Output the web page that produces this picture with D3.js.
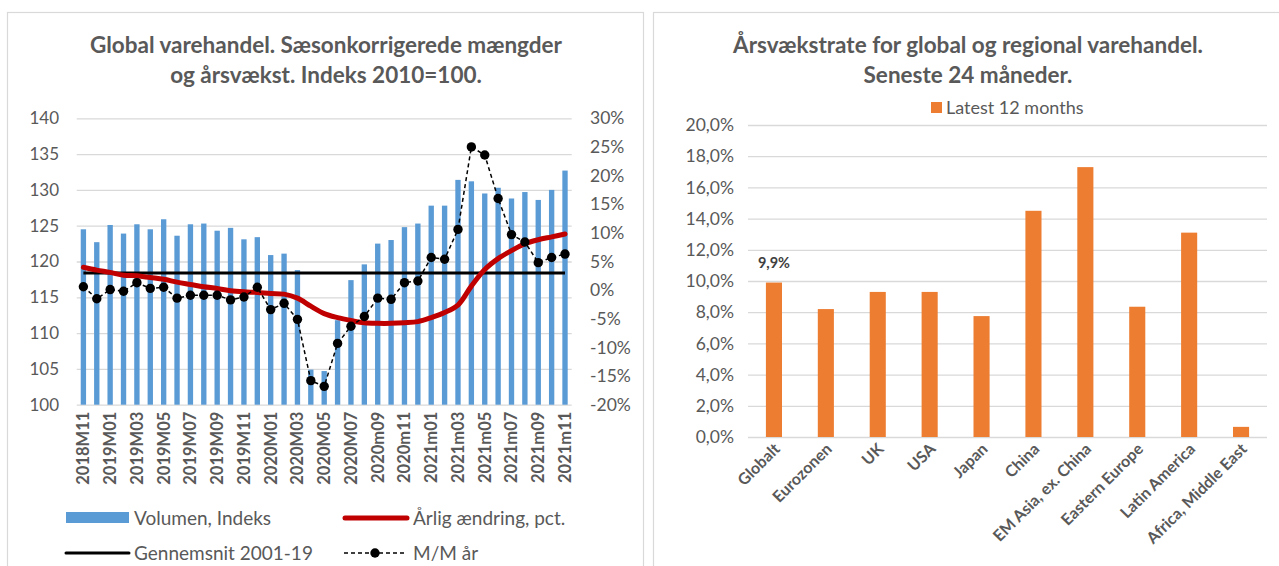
<!DOCTYPE html>
<html><head><meta charset="utf-8">
<script src="https://cdn.jsdelivr.net/npm/d3@7"></script>
<style>
html,body{margin:0;padding:0;background:#fff;}
svg{display:block;font-family:Lato,"Open Sans",sans-serif;}
</style></head>
<body><svg id="c" width="1279" height="566"></svg>
<script>
// ---------- Left chart data ----------
const months = ["2018M11","2018M12","2019M01","2019M02","2019M03","2019M04","2019M05","2019M06","2019M07","2019M08","2019M09","2019M10","2019M11","2019M12","2020M01","2020M02","2020M03","2020M04","2020M05","2020M06","2020M07","2020M08","2020m09","2020m10","2020m11","2020m12","2021m01","2021m02","2021m03","2021m04","2021m05","2021m06","2021m07","2021m08","2021m09","2021m10","2021m11"];
const volumeIndex = [124.5,122.7,125.1,123.9,125.2,124.5,125.9,123.6,125.2,125.3,124.3,124.7,123.1,123.4,120.9,121.1,118.8,104.9,104.7,111.8,117.4,119.6,122.5,123.0,124.8,125.3,127.8,127.8,131.4,131.2,129.5,130.3,128.8,129.7,128.6,130.0,132.7];
const annualChange = [4.0,3.5,3.1,2.6,2.5,2.2,1.9,1.4,1.0,0.6,0.3,-0.1,-0.3,-0.4,-0.6,-0.7,-1.4,-2.8,-4.1,-4.8,-5.3,-5.7,-5.8,-5.8,-5.7,-5.5,-4.8,-3.9,-2.6,0.7,3.6,5.5,6.9,8.1,8.8,9.3,9.8];
const average2001_19 = 3.0;
const mmYear = [0.6,-1.5,0.1,-0.2,1.3,0.3,0.5,-1.4,-0.9,-0.9,-0.9,-1.7,-1.2,0.5,-3.4,-2.3,-5.1,-15.8,-16.8,-9.3,-6.3,-4.6,-1.4,-1.6,1.3,1.6,5.7,5.4,10.6,25.0,23.6,16.0,9.7,8.4,4.8,5.7,6.3];
const leftTicks = [100,105,110,115,120,125,130,135,140];
const rightTicks = [-20,-15,-10,-5,0,5,10,15,20,25,30];
const leftTitle = ["Global varehandel. Sæsonkorrigerede mængder","og årsvækst. Indeks 2010=100."];
const leftLegend = ["Volumen, Indeks","Årlig ændring, pct.","Gennemsnit 2001-19","M/M år"];

// ---------- Right chart data ----------
const regions = ["Globalt","Eurozonen","UK","USA","Japan","China","EM Asia, ex. China","Eastern Europe","Latin America","Africa, Middle East"];
const growth12m = [9.9,8.2,9.3,9.3,7.75,14.5,17.3,8.35,13.1,0.65];
const growthTicks = [0,2,4,6,8,10,12,14,16,18,20];
const rightTitle = ["Årsvækstrate for global og regional varehandel.","Seneste 24 måneder."];
const rightLegend = "Latest 12 months";

const svg = d3.select("#c");
const txt = "#595959", grid = "#d9d9d9";
const blue = "#5b9bd5", red = "#c00000", orange = "#ed7d31";
const loc = d3.formatLocale({decimal:",",thousands:".",grouping:[3],currency:["",""]});
const f1 = loc.format(".1f");

// panel borders
svg.append("rect").attr("x",7.5).attr("y",12.5).attr("width",636).attr("height",600)
  .attr("fill","none").attr("stroke",grid).attr("stroke-width",1.2);
svg.append("rect").attr("x",653.5).attr("y",12.5).attr("width",700).attr("height",600)
  .attr("fill","none").attr("stroke",grid).attr("stroke-width",1.2);

// ===== LEFT CHART =====
const L = svg.append("g");
L.selectAll("text.title").data(leftTitle).join("text")
  .attr("x",326).attr("y",(d,i)=>53+i*30).attr("text-anchor","middle")
  .attr("font-size",22.5).attr("font-weight","bold").attr("fill",txt).text(d=>d);

const x = d3.scaleBand().domain(months).range([76.7,571.7]).paddingInner(0.6).paddingOuter(0.3);
const yL = d3.scaleLinear().domain([100,140]).range([404.7,118.3]);
const yR = d3.scaleLinear().domain([-20,30]).range([404.7,118.3]);

// gridlines
L.append("g").call(d3.axisLeft(yL).tickValues(leftTicks).tickSize(-(571.7-76.7)).tickFormat(""))
  .attr("transform","translate(76.7,0)")
  .call(g=>{g.select(".domain").remove(); g.selectAll("line").attr("stroke",grid).attr("stroke-width",1.3);});
// left labels
L.append("g").attr("transform","translate(59,0)")
  .call(d3.axisLeft(yL).tickValues(leftTicks).tickSize(0).tickPadding(0))
  .call(g=>{g.select(".domain").remove(); g.selectAll("text").attr("fill",txt).attr("font-size",17).attr("font-family","Lato");});
// right labels
L.append("g").attr("transform","translate(590,0)")
  .call(d3.axisRight(yR).tickValues(rightTicks).tickSize(0).tickPadding(0).tickFormat(d=>d+"%"))
  .call(g=>{g.select(".domain").remove(); g.selectAll("text").attr("fill",txt).attr("font-size",17.5).attr("font-family","Lato");});

// bars
L.selectAll("rect.bar").data(volumeIndex).join("rect")
  .attr("x",(d,i)=>x(months[i])).attr("width",x.bandwidth())
  .attr("y",d=>yL(d)).attr("height",d=>yL(100)-yL(d)).attr("fill",blue);

const cx = i => x(months[i]) + x.bandwidth()/2;
// average line
L.append("path").datum(months)
  .attr("d",d3.line().x((d,i)=>cx(i)).y(()=>yR(average2001_19)))
  .attr("stroke","#000").attr("stroke-width",3).attr("fill","none");
// annual change
L.append("path").datum(annualChange)
  .attr("d",d3.line().x((d,i)=>cx(i)).y(d=>yR(d)).curve(d3.curveCatmullRom.alpha(0.5)))
  .attr("stroke",red).attr("stroke-width",5).attr("fill","none").attr("stroke-linecap","round");
// M/M
L.append("path").datum(mmYear)
  .attr("d",d3.line().x((d,i)=>cx(i)).y(d=>yR(d)))
  .attr("stroke","#000").attr("stroke-width",1.5).attr("stroke-dasharray","4,3").attr("fill","none");
L.selectAll("circle.mm").data(mmYear).join("circle")
  .attr("cx",(d,i)=>cx(i)).attr("cy",d=>yR(d)).attr("r",4.7).attr("fill","#000");

// x labels
L.append("g").attr("transform","translate(0,404.7)")
  .call(d3.axisBottom(x).tickValues(months.filter((d,i)=>i%2===0)).tickSize(0).tickPadding(0))
  .call(g=>{g.select(".domain").remove();
    g.selectAll("text").attr("fill",txt).attr("font-size",16.5).attr("font-weight","bold").attr("font-family","Lato")
     .attr("transform","rotate(-90)").attr("text-anchor","end").attr("x",-7).attr("y",0).attr("dy","0.36em");});

// legend
const lg = L.append("g").attr("font-size",19).attr("fill",txt);
lg.append("rect").attr("x",66).attr("y",512).attr("width",63).attr("height",11).attr("fill",blue);
lg.append("text").attr("x",134).attr("y",518).attr("dy","0.35em").attr("fill",txt).text(leftLegend[0]);
lg.append("line").attr("x1",345).attr("x2",407).attr("y1",518).attr("y2",518).attr("stroke",red).attr("stroke-width",5).attr("stroke-linecap","round");
lg.append("text").attr("x",413).attr("y",518).attr("dy","0.35em").attr("fill",txt).text(leftLegend[1]);
lg.append("line").attr("x1",66).attr("x2",129).attr("y1",553).attr("y2",553).attr("stroke","#000").attr("stroke-width",3).attr("stroke-linecap","round");
lg.append("text").attr("x",134).attr("y",553).attr("dy","0.35em").attr("fill",txt).text(leftLegend[2]);
lg.append("line").attr("x1",344).attr("x2",406).attr("y1",553).attr("y2",553).attr("stroke","#000").attr("stroke-width",1.5).attr("stroke-dasharray","4,3");
lg.append("circle").attr("cx",375).attr("cy",553).attr("r",4.7).attr("fill","#000");
lg.append("text").attr("x",413).attr("y",553).attr("dy","0.35em").attr("fill",txt).text(leftLegend[3]);

// ===== RIGHT CHART =====
const R = svg.append("g");
R.selectAll("text.title").data(rightTitle).join("text")
  .attr("x",968).attr("y",(d,i)=>53+i*30).attr("text-anchor","middle")
  .attr("font-size",22.5).attr("font-weight","bold").attr("fill",txt).text(d=>d);

const x2 = d3.scaleBand().domain(regions).range([748,1267]).paddingInner(0.69).paddingOuter(0.345);
const y2 = d3.scaleLinear().domain([0,20]).range([437,125]);

R.append("g").attr("transform","translate(748,0)")
  .call(d3.axisLeft(y2).tickValues(growthTicks).tickSize(-(1267-748)).tickFormat(""))
  .call(g=>{g.select(".domain").remove(); g.selectAll("line").attr("stroke",grid).attr("stroke-width",1.3);});
R.append("g").attr("transform","translate(734,0)")
  .call(d3.axisLeft(y2).tickValues(growthTicks).tickSize(0).tickPadding(0).tickFormat(d=>f1(d)+"%"))
  .call(g=>{g.select(".domain").remove(); g.selectAll("text").attr("fill",txt).attr("font-size",17.5).attr("font-family","Lato");});

R.selectAll("rect.bar").data(growth12m).join("rect")
  .attr("x",(d,i)=>x2(regions[i])).attr("width",x2.bandwidth())
  .attr("y",d=>y2(d)).attr("height",d=>y2(0)-y2(d)).attr("fill",orange);

// data label for Globalt
R.append("text").attr("x",x2(regions[0])+x2.bandwidth()/2).attr("y",y2(growth12m[0])-15)
  .attr("text-anchor","middle").attr("font-size",14.5).attr("font-weight","bold").attr("fill","#404040")
  .text(f1(growth12m[0])+"%");

R.append("g").attr("transform","translate(0,437)")
  .call(d3.axisBottom(x2).tickSize(0).tickPadding(0))
  .call(g=>{g.select(".domain").remove();
    g.selectAll("text").attr("fill",txt).attr("font-size",16).attr("font-weight","bold").attr("font-family","Lato")
     .attr("text-anchor","end").attr("dy",0).attr("y",0)
     .attr("transform","translate(7,13) rotate(-45)");});

// legend
R.append("rect").attr("x",931).attr("y",102).attr("width",11).attr("height",11).attr("fill",orange);
R.append("text").attr("x",946).attr("y",108).attr("dy","0.35em").attr("font-size",18).attr("fill",txt).text(rightLegend);
</script></body></html>
